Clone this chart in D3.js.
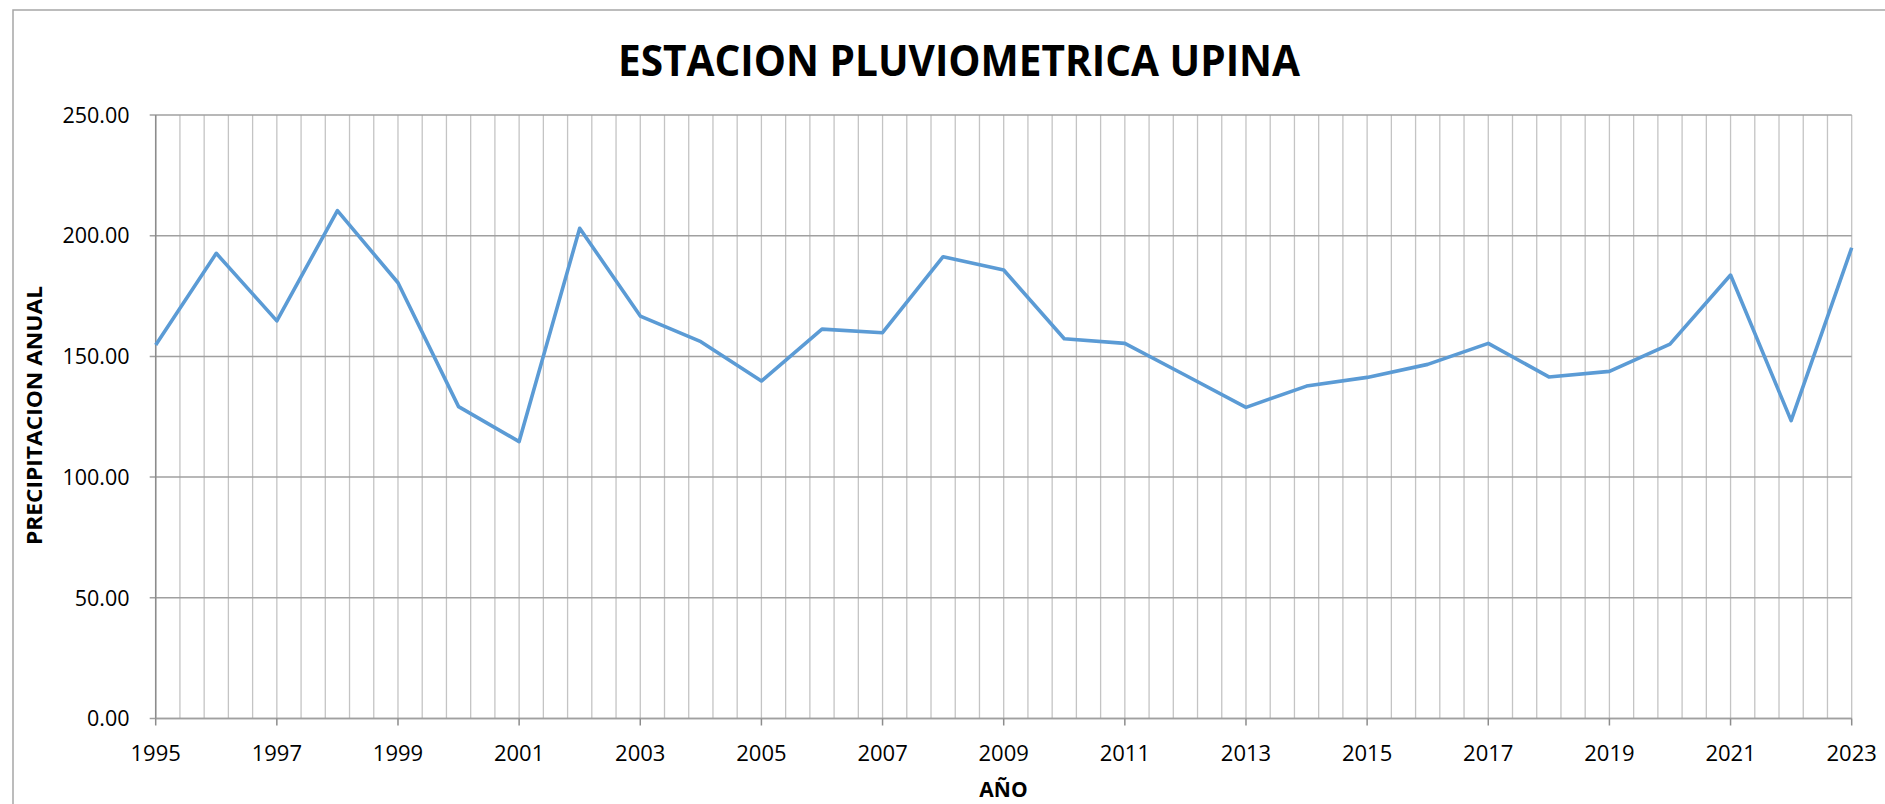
<!DOCTYPE html>
<html>
<head>
<meta charset="utf-8">
<script src="https://cdn.jsdelivr.net/npm/d3@7"></script>
<style>
  html, body { margin: 0; padding: 0; background: #fff; }
  svg { display: block; font-family: "Open Sans", "Noto Sans", sans-serif; }
</style>
</head>
<body>
<div id="chart"></div>
<script>
// datos de la estacion
var years = [1995, 1996, 1997, 1998, 1999, 2000, 2001, 2002, 2003, 2004,
             2005, 2006, 2007, 2008, 2009, 2010, 2011, 2012, 2013, 2014,
             2015, 2016, 2017, 2018, 2019, 2020, 2021, 2022, 2023];
var precip = [154.7, 192.7, 164.7, 210.4, 180.5, 129.2, 114.7, 203.1, 166.7, 156.1,
              139.8, 161.3, 159.8, 191.3, 185.8, 157.3, 155.4, 142.2, 128.9, 137.7,
              141.3, 146.7, 155.4, 141.5, 143.8, 155.1, 183.7, 123.4, 195.0];
var yTicks = [0, 50, 100, 150, 200, 250];
var xTicks = [1995, 1997, 1999, 2001, 2003, 2005, 2007, 2009, 2011, 2013,
              2015, 2017, 2019, 2021, 2023];

var width = 1885, height = 804;
// area de trazado
var plotLeft = 155.7, plotRight = 1851.7, plotTop = 115, plotBottom = 718.5;

var svg = d3.select('#chart')
            .append('svg')
            .attr('width', width)
            .attr('height', height);

// marco del grafico
svg.append('rect')
   .attr('x', 13).attr('y', 10)
   .attr('width', 1900).attr('height', 820)
   .attr('fill', 'none')
   .attr('stroke', '#a6a6a6')
   .attr('stroke-width', 1.5);

var x = d3.scaleLinear().domain([1995, 2023]).range([plotLeft, plotRight]);
var y = d3.scaleLinear().domain([0, 250]).range([plotBottom, plotTop]);

// lineas verticales cada 0.4 anios
var minor = d3.range(0, 71).map(function(i) { return 1995 + i * 0.4; });
svg.append('g')
   .selectAll('line')
   .data(minor)
   .enter()
   .append('line')
   .attr('x1', function(d) { return x(d); })
   .attr('x2', function(d) { return x(d); })
   .attr('y1', plotTop)
   .attr('y2', plotBottom)
   .attr('stroke', '#c4c4c4')
   .attr('stroke-width', 1.3);

// lineas horizontales
svg.append('g')
   .selectAll('line')
   .data(yTicks)
   .enter()
   .append('line')
   .attr('x1', plotLeft - 6)
   .attr('x2', plotRight)
   .attr('y1', function(d) { return y(d); })
   .attr('y2', function(d) { return y(d); })
   .attr('stroke', '#a0a0a0')
   .attr('stroke-width', 1.5);

// eje Y
svg.append('line')
   .attr('x1', plotLeft).attr('x2', plotLeft)
   .attr('y1', plotTop).attr('y2', plotBottom)
   .attr('stroke', '#8c8c8c').attr('stroke-width', 1.5);

svg.append('g')
   .selectAll('text')
   .data(yTicks)
   .enter()
   .append('text')
   .attr('x', 129.5)
   .attr('y', function(d) { return y(d); })
   .attr('dy', '0.36em')
   .attr('text-anchor', 'end')
   .style('font-size', '21.5px')
   .style('fill', '#000')
   .text(function(d) { return d.toFixed(2); });

// eje X
svg.append('line')
   .attr('x1', plotLeft).attr('x2', plotRight)
   .attr('y1', plotBottom).attr('y2', plotBottom)
   .attr('stroke', '#a0a0a0').attr('stroke-width', 1.5);

svg.append('g')
   .selectAll('line')
   .data(xTicks)
   .enter()
   .append('line')
   .attr('x1', function(d) { return x(d); })
   .attr('x2', function(d) { return x(d); })
   .attr('y1', plotBottom)
   .attr('y2', plotBottom + 7)
   .attr('stroke', '#8c8c8c')
   .attr('stroke-width', 1.5);

svg.append('g')
   .selectAll('text')
   .data(xTicks)
   .enter()
   .append('text')
   .attr('x', function(d) { return x(d); })
   .attr('y', 761)
   .attr('text-anchor', 'middle')
   .style('font-size', '22px')
   .style('fill', '#000')
   .text(function(d) { return d; });

// serie
var line = d3.line()
             .x(function(d, i) { return x(years[i]); })
             .y(function(d) { return y(d); });

svg.append('path')
   .datum(precip)
   .attr('d', line)
   .attr('fill', 'none')
   .attr('stroke', '#5b9bd5')
   .attr('stroke-width', 3.6)
   .attr('stroke-linejoin', 'round');

// titulos
svg.append('text')
   .attr('x', 959)
   .attr('y', 75.7)
   .attr('text-anchor', 'middle')
   .attr('textLength', 682)
   .attr('lengthAdjust', 'spacingAndGlyphs')
   .style('font-size', '43px')
   .style('font-weight', 'bold')
   .text('ESTACION PLUVIOMETRICA UPINA');

svg.append('text')
   .attr('transform', 'translate(42,415.5) rotate(-90)')
   .attr('text-anchor', 'middle')
   .attr('textLength', 259)
   .attr('lengthAdjust', 'spacingAndGlyphs')
   .style('font-size', '21px')
   .style('font-weight', 'bold')
   .text('PRECIPITACION ANUAL');

svg.append('text')
   .attr('x', 1003.5)
   .attr('y', 797)
   .attr('text-anchor', 'middle')
   .style('font-size', '21px')
   .style('font-weight', 'bold')
   .text('AÑO');
</script>
</body>
</html>
